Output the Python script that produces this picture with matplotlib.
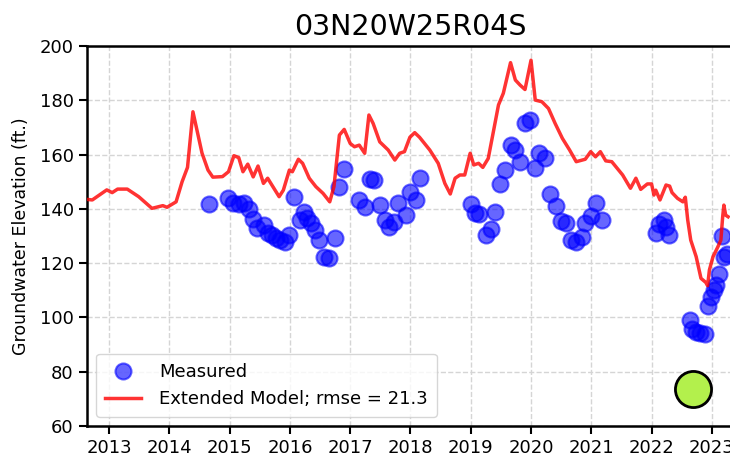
import matplotlib
matplotlib.use("Agg")
import matplotlib.pyplot as plt
import numpy as np

# Extended model (decimal year, elevation ft)
model_t = [2012.63, 2012.72, 2012.96, 2013.05, 2013.14, 2013.30, 2013.49, 2013.71, 2013.89, 2013.96,
           2014.11, 2014.21, 2014.30, 2014.39, 2014.54, 2014.64, 2014.72, 2014.88, 2014.98, 2015.07,
           2015.15, 2015.22, 2015.30, 2015.39, 2015.47, 2015.56, 2015.63, 2015.82, 2015.89, 2015.99,
           2016.04, 2016.14, 2016.21, 2016.32, 2016.43, 2016.55, 2016.66, 2016.73, 2016.82, 2016.90,
           2017.00, 2017.07, 2017.15, 2017.24, 2017.31, 2017.38, 2017.49, 2017.63, 2017.74, 2017.82,
           2017.90, 2017.99, 2018.07, 2018.15, 2018.32, 2018.46, 2018.57, 2018.66, 2018.74, 2018.82,
           2018.90, 2018.99, 2019.05, 2019.13, 2019.20, 2019.29, 2019.38, 2019.46, 2019.54, 2019.66,
           2019.74, 2019.82, 2019.90, 2020.00, 2020.07, 2020.18, 2020.29, 2020.40, 2020.52, 2020.64,
           2020.75, 2020.90, 2020.99, 2021.07, 2021.15, 2021.24, 2021.34, 2021.52, 2021.65, 2021.74,
           2021.82, 2021.93, 2022.00, 2022.04, 2022.07, 2022.14, 2022.24, 2022.30, 2022.34, 2022.43,
           2022.52, 2022.56, 2022.60, 2022.65, 2022.74, 2022.82, 2022.90, 2022.93, 2022.96, 2023.02,
           2023.10, 2023.15, 2023.18, 2023.20, 2023.23, 2023.27]
model_v = [143.5, 143.3, 147.0, 146.0, 147.3, 147.3, 144.5, 140.2, 141.2, 140.6,
           142.6, 150.0, 155.3, 175.8, 160.6, 154.3, 151.7, 151.9, 153.7, 159.6,
           158.9, 153.7, 156.5, 151.8, 155.8, 149.4, 151.3, 144.5, 146.9, 154.3,
           153.7, 158.3, 156.8, 151.3, 148.2, 145.7, 142.6, 148.2, 167.2, 169.3,
           164.1, 162.9, 163.5, 160.5, 174.6, 171.5, 164.7, 161.7, 158.0, 160.5,
           161.1, 166.4, 168.1, 166.4, 161.7, 156.8, 149.4, 145.5, 151.3, 152.5,
           152.5, 160.5, 156.2, 156.8, 155.3, 158.6, 169.0, 178.3, 182.6, 193.9,
           187.5, 185.6, 184.0, 194.8, 180.1, 179.5, 177.0, 171.5, 166.0, 161.7,
           157.4, 158.3, 161.1, 159.2, 161.1, 157.7, 157.4, 152.5, 147.6, 151.3,
           147.2, 149.2, 149.2, 145.1, 146.9, 143.3, 148.8, 148.4, 146.0, 143.9,
           142.6, 144.3, 135.9, 128.5, 122.4, 114.4, 112.9, 111.7, 117.5, 122.4,
           126.0, 128.5, 137.1, 141.4, 137.7, 137.1]

# Measured (decimal year, elevation ft)
meas_t = [2014.66, 2014.98, 2015.06, 2015.16, 2015.24, 2015.32, 2015.39, 2015.46, 2015.57, 2015.63,
          2015.71, 2015.77, 2015.84, 2015.92, 2015.99, 2016.06, 2016.16, 2016.23, 2016.28, 2016.35,
          2016.41, 2016.49, 2016.57, 2016.64, 2016.74, 2016.82, 2016.90, 2017.14, 2017.24, 2017.32,
          2017.40, 2017.49, 2017.57, 2017.65, 2017.72, 2017.80, 2017.92, 2017.99, 2018.09, 2018.15,
          2019.00, 2019.07, 2019.14, 2019.25, 2019.33, 2019.40, 2019.49, 2019.57, 2019.66, 2019.74,
          2019.82, 2019.90, 2019.99, 2020.07, 2020.14, 2020.23, 2020.32, 2020.42, 2020.49, 2020.58,
          2020.67, 2020.75, 2020.84, 2020.90, 2020.99, 2021.08, 2021.17, 2022.07, 2022.13, 2022.21,
          2022.24, 2022.29, 2022.63, 2022.67, 2022.74, 2022.80, 2022.89, 2022.94, 2022.99, 2023.03,
          2023.07, 2023.12, 2023.17, 2023.21, 2023.25]
meas_v = [141.8, 143.9, 142.2, 141.9, 142.2, 139.8, 136.1, 133.0, 134.2, 131.0,
          130.4, 129.1, 128.5, 127.9, 130.4, 144.5, 135.9, 138.9, 136.5, 134.7,
          132.2, 128.5, 122.4, 121.8, 129.1, 148.2, 154.7, 143.3, 140.8, 150.9,
          150.6, 141.4, 135.9, 133.5, 135.0, 142.0, 137.7, 146.3, 143.3, 151.5,
          141.8, 138.4, 138.1, 130.4, 132.5, 138.9, 149.2, 154.3, 163.5, 161.7,
          157.4, 171.5, 172.7, 154.9, 160.5, 158.6, 145.5, 141.0, 135.6, 134.7,
          128.5, 127.9, 129.5, 134.7, 137.4, 142.0, 135.9, 131.0, 134.5, 136.0,
          133.4, 130.5, 99.0, 95.6, 94.7, 94.1, 93.9, 104.2, 107.6, 110.1,
          111.9, 116.0, 130.0, 122.4, 123.4]

marker_t = [2022.68]
marker_v = [73.5]

years = list(range(2013, 2024))
title = "03N20W25R04S"
rmse = 21.3

fig = plt.figure(figsize=(7.3, 4.61), dpi=100)
ax = fig.add_axes([0.119, 0.076, 0.885, 0.824])

ax.plot(meas_t, meas_v, 'o', color='blue', alpha=0.6, markersize=11.5,
        markeredgewidth=1.5, label='Measured', zorder=3)
ax.plot(model_t, model_v, '-', color='red', alpha=0.8, linewidth=2.5,
        label=f'Extended Model; rmse = {rmse}', zorder=4)
ax.plot(marker_t, marker_v, 'o', color='#b3f04c', markersize=26,
        markeredgecolor='black', markeredgewidth=2, zorder=5)

ax.set_xlim(2012.63, 2023.35)
ax.set_ylim(60, 200)
ax.set_xticks(years)
ax.set_xticklabels([str(y) for y in years])
ax.set_yticks(range(60, 201, 20))
ax.tick_params(labelsize=13, length=6, width=1.5)
ax.grid(True, linestyle='--', color='#d5d5d5', linewidth=1)
ax.set_axisbelow(True)
for s in ax.spines.values():
    s.set_linewidth(1.8)
ax.set_ylabel('Groundwater Elevation (ft.)', fontsize=12.5, labelpad=7)
ax.set_title(title, fontsize=20.5, pad=8)
ax.legend(loc='lower left', fontsize=13, framealpha=0.8, borderpad=0.5,
          handletextpad=1.0)

fig.savefig('out.png', dpi=100)
